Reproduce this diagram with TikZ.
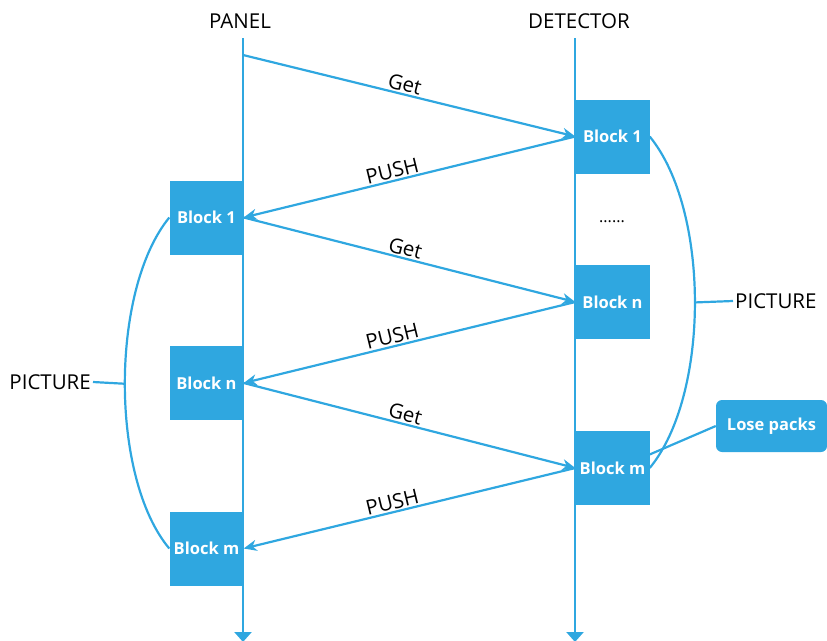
\documentclass[tikz,border=0pt]{standalone}
\usepackage{fontspec}
\setmainfont{Open Sans}
\usetikzlibrary{arrows.meta,positioning,calc}
\definecolor{seqblue}{RGB}{47,167,224}

\tikzset{
  lifeline/.style = {seqblue, line width=2.6pt, -{Triangle[width=17pt,length=10pt]}},
  blk/.style = {fill=seqblue, text=white, minimum width=74pt, minimum height=74pt,
                inner sep=0pt, font=\fontsize{16.5}{18}\selectfont\bfseries},
  msg/.style = {seqblue, line width=2.2pt, -{Stealth[length=13pt,width=11pt,inset=4pt]}},
  msglabel/.style = {sloped, above, inner sep=1.5pt, text=black, font=\fontsize{20.5}{22}\selectfont},
  brace/.style = {seqblue, line width=2.2pt},
  title/.style = {font=\fontsize{20.5}{22}\selectfont}
}

\begin{document}
\begin{tikzpicture}[x = 1pt, y = -1pt]
    \useasboundingbox (0,0) rectangle (827,640);

    % lifelines
    \node[title] (panel) at (240,21) {PANEL};
    \node[title] (detector) at (579,21) {DETECTOR};
    \coordinate (ptop) at (243,38);
    \coordinate (pbot) at (243,642);
    \coordinate (dtop) at (575,38);
    \coordinate (dbot) at (575,642);
    \draw[lifeline] (ptop) -- (pbot);
    \draw[lifeline] (dtop) -- (dbot);

    % blocks on the panel side
    \node[blk] (pb1) at (206.5,217.5) {Block 1};
    \node[blk] (pbn) at (206.5,383) {Block n};
    \node[blk] (pbm) at (206.5,548.5) {Block m};

    % blocks on the detector side
    \node[blk] (db1) at (612.5,136.5) {Block 1};
    \node[blk] (dbn) at (612.5,302) {Block n};
    \node[blk] (dbm) at (612.5,468) {Block m};
    \node[font=\fontsize{16}{18}\selectfont] (dots) at (612,222) {......};

    % messages
    \coordinate (start) at (243,55);
    \draw[msg] (start) -- node[msglabel, pos=.48] {Get} (db1.west);
    \draw[msg] (db1.west) -- node[msglabel, pos=.545] {PUSH} (pb1.east);
    \draw[msg] (pb1.east) -- node[msglabel, pos=.48] {Get} (dbn.west);
    \draw[msg] (dbn.west) -- node[msglabel, pos=.545] {PUSH} (pbn.east);
    \draw[msg] (pbn.east) -- node[msglabel, pos=.48] {Get} (dbm.west);
    \draw[msg] (dbm.west) -- node[msglabel, pos=.545] {PUSH} (pbm.east);

    % picture groups
    \draw[brace] (pb1.west) .. controls (110,290) and (110,478) .. (pbm.west)
        coordinate[pos=.5] (lmid);
    \draw[brace] (db1.east) .. controls (710,210) and (710,395) .. (dbm.east)
        coordinate[pos=.5] (rmid);
    \node[title, anchor=east, inner sep=2pt] (lpic) at (93,382) {PICTURE};
    \node[title, anchor=west, inner sep=2pt] (rpic) at (733,301) {PICTURE};
    \draw[brace] (lpic.east) -- (lmid);
    \draw[brace] (rmid) -- (rpic.west);

    % lost packets
    \node[fill=seqblue, text=white, rounded corners=6pt, minimum width=111pt,
          minimum height=52pt, font=\fontsize{16.5}{18}\selectfont\bfseries] (lose) at (771.5,426) {Lose packs};
    \draw[brace] (dbm.20) -- (lose.west);
\end{tikzpicture}
\end{document}
